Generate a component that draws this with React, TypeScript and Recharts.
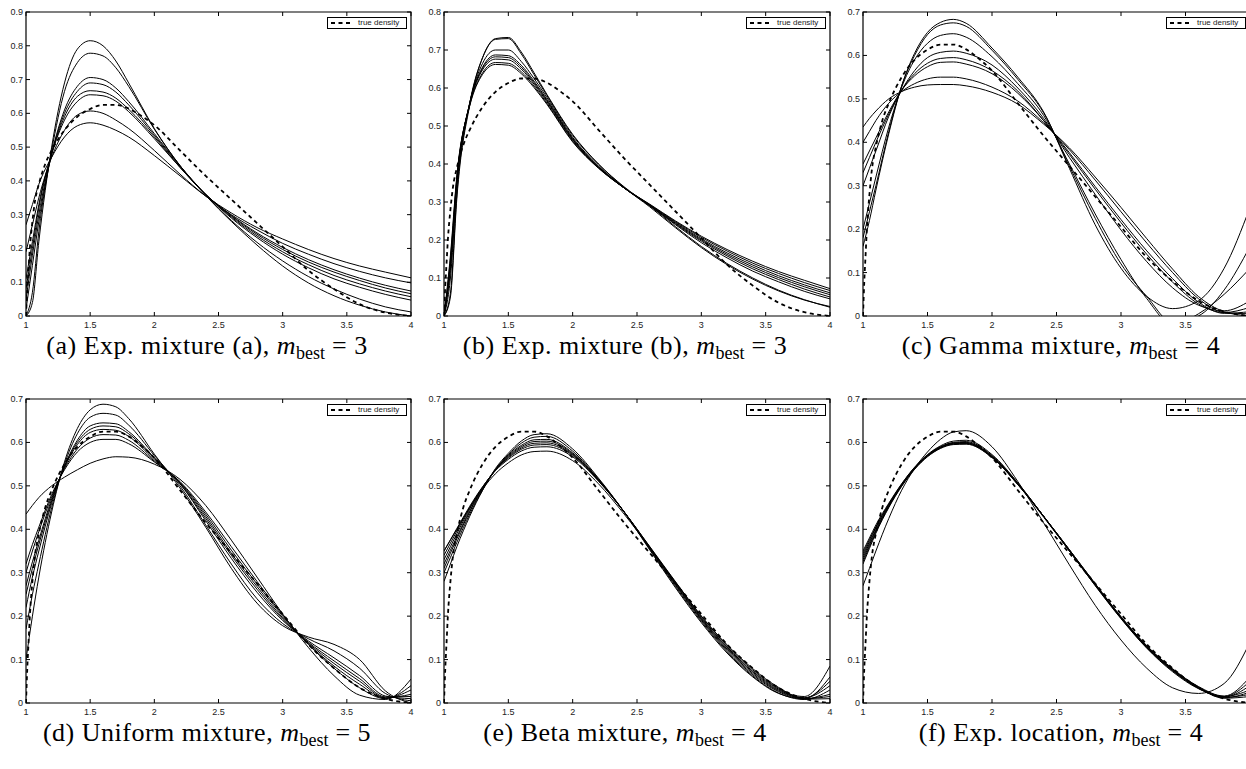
import React from 'react';
import { LineChart, Line, XAxis, YAxis, ReferenceArea } from 'recharts';

// sample grid shared by every fitted curve
const FIT_X = [1, 1.05, 1.1, 1.2, 1.3, 1.4, 1.5, 1.6, 1.7, 1.8, 2, 2.2, 2.4, 2.6, 2.8, 3, 3.2, 3.4, 3.6, 3.8, 4];

// true density (same in all six panels)
const TRUE_X = [1, 1.01, 1.02, 1.03, 1.05, 1.07, 1.1, 1.15, 1.2, 1.3, 1.4, 1.5, 1.6, 1.7, 1.8, 1.9, 2, 2.2, 2.4, 2.6, 2.8, 3, 3.2, 3.4, 3.6, 3.8, 4];
const TRUE_Y = [0, 0.08, 0.14, 0.2, 0.28, 0.34, 0.39, 0.45, 0.49, 0.55, 0.59, 0.613, 0.625, 0.625, 0.614, 0.592, 0.565, 0.49, 0.415, 0.345, 0.275, 0.205, 0.135, 0.08, 0.035, 0.01, 0];

const X_TICKS = [1, 1.5, 2, 2.5, 3, 3.5, 4];
const Y_TICKS_09 = [0, 0.1, 0.2, 0.3, 0.4, 0.5, 0.6, 0.7, 0.8, 0.9];
const Y_TICKS_08 = [0, 0.1, 0.2, 0.3, 0.4, 0.5, 0.6, 0.7, 0.8];
const Y_TICKS_07 = [0, 0.1, 0.2, 0.3, 0.4, 0.5, 0.6, 0.7];

// (a) Exp. mixture (a)
const EXP_A_FITS = [
  [0, 0.04, 0.22, 0.5, 0.69, 0.79, 0.815, 0.8, 0.755, 0.69, 0.555, 0.445, 0.357, 0.28, 0.21, 0.148, 0.098, 0.06, 0.032, 0.012, 0],
  [0, 0.07, 0.25, 0.49, 0.665, 0.75, 0.778, 0.77, 0.735, 0.68, 0.553, 0.445, 0.358, 0.283, 0.218, 0.163, 0.117, 0.08, 0.05, 0.027, 0.012],
  [0.02, 0.15, 0.28, 0.48, 0.61, 0.68, 0.706, 0.7, 0.675, 0.635, 0.54, 0.445, 0.36, 0.29, 0.232, 0.183, 0.143, 0.11, 0.085, 0.064, 0.047],
  [0.05, 0.18, 0.3, 0.48, 0.6, 0.665, 0.69, 0.685, 0.663, 0.625, 0.535, 0.443, 0.36, 0.293, 0.237, 0.19, 0.152, 0.12, 0.095, 0.074, 0.057],
  [0.08, 0.2, 0.32, 0.48, 0.59, 0.65, 0.667, 0.663, 0.645, 0.612, 0.53, 0.44, 0.36, 0.296, 0.242, 0.197, 0.16, 0.13, 0.105, 0.083, 0.066],
  [0.11, 0.22, 0.33, 0.48, 0.58, 0.635, 0.655, 0.652, 0.636, 0.605, 0.525, 0.44, 0.36, 0.298, 0.246, 0.203, 0.167, 0.137, 0.112, 0.091, 0.074],
  [0.19, 0.27, 0.35, 0.47, 0.55, 0.595, 0.607, 0.6, 0.58, 0.555, 0.49, 0.42, 0.355, 0.3, 0.255, 0.215, 0.183, 0.155, 0.132, 0.113, 0.098],
  [0.27, 0.33, 0.39, 0.47, 0.53, 0.563, 0.572, 0.565, 0.55, 0.53, 0.475, 0.415, 0.355, 0.305, 0.262, 0.228, 0.197, 0.17, 0.148, 0.13, 0.113],
];

// (b) Exp. mixture (b)
const EXP_B_FITS = [
  [0, 0.06, 0.32, 0.56, 0.68, 0.728, 0.73, 0.69, 0.635, 0.58, 0.475, 0.4, 0.34, 0.29, 0.235, 0.183, 0.138, 0.1, 0.068, 0.043, 0.023],
  [0, 0.05, 0.31, 0.555, 0.68, 0.73, 0.733, 0.695, 0.64, 0.583, 0.478, 0.4, 0.338, 0.287, 0.232, 0.18, 0.135, 0.097, 0.066, 0.042, 0.025],
  [0, 0.1, 0.34, 0.56, 0.665, 0.7, 0.7, 0.67, 0.625, 0.575, 0.47, 0.395, 0.338, 0.29, 0.24, 0.193, 0.153, 0.118, 0.09, 0.065, 0.045],
  [0, 0.12, 0.35, 0.56, 0.655, 0.687, 0.685, 0.66, 0.618, 0.57, 0.467, 0.393, 0.337, 0.29, 0.242, 0.197, 0.158, 0.124, 0.096, 0.071, 0.05],
  [0, 0.13, 0.355, 0.56, 0.652, 0.682, 0.68, 0.655, 0.614, 0.567, 0.465, 0.392, 0.337, 0.291, 0.244, 0.2, 0.162, 0.129, 0.101, 0.077, 0.056],
  [0, 0.14, 0.36, 0.558, 0.648, 0.676, 0.674, 0.65, 0.61, 0.564, 0.463, 0.391, 0.337, 0.292, 0.246, 0.203, 0.166, 0.134, 0.106, 0.082, 0.061],
  [0, 0.15, 0.365, 0.555, 0.64, 0.667, 0.665, 0.643, 0.605, 0.56, 0.46, 0.39, 0.337, 0.293, 0.248, 0.207, 0.171, 0.139, 0.112, 0.088, 0.067],
  [0, 0.16, 0.37, 0.553, 0.636, 0.662, 0.66, 0.638, 0.601, 0.557, 0.458, 0.389, 0.337, 0.294, 0.25, 0.21, 0.175, 0.144, 0.117, 0.094, 0.072],
];

// (c) Gamma mixture
const GAMMA_FITS = [
  [0.16, 0.22, 0.29, 0.42, 0.53, 0.605, 0.653, 0.676, 0.683, 0.674, 0.617, 0.55, 0.47, 0.34, 0.21, 0.11, 0.045, 0.017, 0.035, 0.11, 0.25],
  [0.18, 0.24, 0.3, 0.425, 0.53, 0.6, 0.648, 0.67, 0.675, 0.667, 0.612, 0.545, 0.468, 0.345, 0.225, 0.12, 0.045, -0.015, 0, 0.06, 0.16],
  [0.2, 0.26, 0.32, 0.435, 0.527, 0.59, 0.628, 0.646, 0.65, 0.642, 0.597, 0.535, 0.462, 0.35, 0.235, 0.13, 0.04, -0.02, 0.005, 0.05, 0.11],
  [0.3, 0.34, 0.38, 0.46, 0.52, 0.565, 0.595, 0.607, 0.61, 0.605, 0.578, 0.525, 0.455, 0.365, 0.28, 0.198, 0.125, 0.065, 0.025, 0.012, 0.035],
  [0.33, 0.365, 0.4, 0.465, 0.52, 0.558, 0.582, 0.593, 0.595, 0.59, 0.565, 0.518, 0.45, 0.372, 0.292, 0.215, 0.142, 0.078, 0.028, 0.008, 0.02],
  [0.35, 0.38, 0.41, 0.47, 0.52, 0.553, 0.574, 0.584, 0.585, 0.58, 0.558, 0.513, 0.45, 0.376, 0.298, 0.222, 0.15, 0.086, 0.032, 0.006, 0.01],
  [0.4, 0.425, 0.45, 0.49, 0.517, 0.535, 0.546, 0.55, 0.55, 0.546, 0.527, 0.495, 0.445, 0.383, 0.313, 0.24, 0.168, 0.1, 0.04, 0.008, 0.005],
  [0.435, 0.455, 0.472, 0.5, 0.517, 0.527, 0.532, 0.533, 0.533, 0.53, 0.515, 0.488, 0.442, 0.387, 0.32, 0.25, 0.178, 0.108, 0.045, 0.01, 0],
];

// (d) Uniform mixture
const UNIFORM_FITS = [
  [0.1, 0.2, 0.29, 0.44, 0.555, 0.632, 0.675, 0.688, 0.682, 0.655, 0.573, 0.495, 0.405, 0.31, 0.23, 0.178, 0.152, 0.135, 0.1, 0.028, 0],
  [0.17, 0.25, 0.32, 0.45, 0.55, 0.62, 0.658, 0.667, 0.663, 0.64, 0.57, 0.5, 0.41, 0.32, 0.24, 0.183, 0.148, 0.12, 0.08, 0.022, 0.005],
  [0.22, 0.29, 0.35, 0.46, 0.545, 0.605, 0.638, 0.645, 0.643, 0.625, 0.565, 0.505, 0.42, 0.333, 0.255, 0.19, 0.143, 0.104, 0.063, 0.016, 0.01],
  [0.25, 0.31, 0.365, 0.465, 0.545, 0.6, 0.63, 0.638, 0.636, 0.62, 0.563, 0.505, 0.425, 0.34, 0.262, 0.193, 0.14, 0.097, 0.056, 0.014, 0.015],
  [0.27, 0.325, 0.375, 0.47, 0.543, 0.595, 0.623, 0.63, 0.628, 0.614, 0.56, 0.507, 0.43, 0.345, 0.268, 0.196, 0.138, 0.091, 0.05, 0.012, 0.02],
  [0.3, 0.35, 0.395, 0.475, 0.54, 0.585, 0.61, 0.618, 0.617, 0.605, 0.557, 0.508, 0.435, 0.352, 0.274, 0.2, 0.136, 0.085, 0.043, 0.011, 0.03],
  [0.32, 0.365, 0.405, 0.48, 0.537, 0.578, 0.6, 0.607, 0.607, 0.597, 0.555, 0.51, 0.44, 0.36, 0.28, 0.203, 0.135, 0.08, 0.035, 0.01, 0.04],
  [0.435, 0.455, 0.473, 0.5, 0.52, 0.537, 0.552, 0.562, 0.567, 0.566, 0.55, 0.515, 0.455, 0.375, 0.29, 0.205, 0.128, 0.063, 0.018, 0.008, 0.055],
];

// (e) Beta mixture
const BETA_FITS = [
  [0.28, 0.32, 0.36, 0.43, 0.49, 0.54, 0.575, 0.603, 0.618, 0.62, 0.585, 0.518, 0.44, 0.352, 0.265, 0.185, 0.115, 0.06, 0.022, 0.01, 0.06],
  [0.3, 0.335, 0.37, 0.435, 0.49, 0.538, 0.572, 0.598, 0.612, 0.614, 0.58, 0.516, 0.44, 0.354, 0.268, 0.188, 0.118, 0.062, 0.023, 0.008, 0.03],
  [0.31, 0.345, 0.378, 0.44, 0.492, 0.537, 0.57, 0.593, 0.606, 0.607, 0.576, 0.515, 0.44, 0.356, 0.271, 0.191, 0.121, 0.065, 0.026, 0.01, 0.02],
  [0.32, 0.352, 0.383, 0.443, 0.494, 0.537, 0.568, 0.59, 0.602, 0.603, 0.574, 0.514, 0.44, 0.357, 0.273, 0.193, 0.124, 0.068, 0.028, 0.012, 0.04],
  [0.33, 0.36, 0.39, 0.447, 0.496, 0.537, 0.566, 0.587, 0.598, 0.599, 0.572, 0.513, 0.44, 0.358, 0.275, 0.195, 0.127, 0.071, 0.03, 0.015, 0.085],
  [0.34, 0.368, 0.396, 0.45, 0.497, 0.536, 0.564, 0.584, 0.594, 0.595, 0.57, 0.512, 0.44, 0.359, 0.277, 0.197, 0.129, 0.073, 0.032, 0.009, 0.01],
  [0.35, 0.376, 0.402, 0.453, 0.498, 0.535, 0.561, 0.58, 0.589, 0.59, 0.567, 0.511, 0.44, 0.36, 0.279, 0.2, 0.132, 0.076, 0.034, 0.012, 0.05],
  [0.35, 0.375, 0.4, 0.45, 0.493, 0.528, 0.553, 0.571, 0.579, 0.58, 0.558, 0.505, 0.435, 0.357, 0.278, 0.2, 0.134, 0.079, 0.036, 0.01, 0.015],
];

// (f) Exp. location
const EXP_LOC_FITS = [
  [0.27, 0.31, 0.35, 0.425, 0.49, 0.54, 0.578, 0.607, 0.624, 0.627, 0.59, 0.51, 0.415, 0.318, 0.225, 0.145, 0.08, 0.035, 0.022, 0.045, 0.14],
  [0.35, 0.38, 0.41, 0.46, 0.505, 0.543, 0.572, 0.592, 0.603, 0.605, 0.572, 0.507, 0.43, 0.35, 0.27, 0.194, 0.126, 0.072, 0.033, 0.015, 0.03],
  [0.34, 0.372, 0.404, 0.457, 0.503, 0.542, 0.571, 0.59, 0.6, 0.602, 0.57, 0.506, 0.43, 0.35, 0.271, 0.195, 0.127, 0.074, 0.034, 0.014, 0.04],
  [0.335, 0.368, 0.4, 0.455, 0.502, 0.541, 0.57, 0.589, 0.599, 0.6, 0.568, 0.505, 0.43, 0.351, 0.272, 0.196, 0.128, 0.075, 0.035, 0.013, 0.02],
  [0.33, 0.364, 0.397, 0.453, 0.501, 0.54, 0.569, 0.588, 0.597, 0.598, 0.567, 0.504, 0.43, 0.352, 0.273, 0.197, 0.13, 0.077, 0.036, 0.015, 0.05],
  [0.325, 0.36, 0.394, 0.452, 0.5, 0.539, 0.568, 0.587, 0.596, 0.597, 0.566, 0.504, 0.43, 0.353, 0.274, 0.198, 0.131, 0.078, 0.037, 0.012, 0.025],
  [0.32, 0.356, 0.391, 0.45, 0.499, 0.538, 0.567, 0.586, 0.595, 0.596, 0.565, 0.503, 0.43, 0.353, 0.275, 0.199, 0.132, 0.079, 0.038, 0.016, 0.06],
  [0.345, 0.376, 0.406, 0.458, 0.504, 0.542, 0.57, 0.589, 0.598, 0.599, 0.567, 0.503, 0.428, 0.35, 0.272, 0.196, 0.129, 0.076, 0.035, 0.011, 0.015],
];

const PAGE_W = 1246;
const PLOT_H = 304;
const Y_AXIS_W = 30;
const TOP_PAD = 5;
const RIGHT_PAD = 6;
const X_AXIS_H = 22;
const TICK_FONT = '"Liberation Sans", Arial, Helvetica, sans-serif';
const CAPTION_FONT = '"Liberation Serif", "Times New Roman", serif';

const fmt = (v: number) => String(Number(v.toFixed(2)));
const toPoints = (xs: number[], ys: number[]) => xs.map((x, i) => ({ x, y: ys[i] }));

interface PanelProps {
  fits: number[][];
  yTicks: number[];
  plotLeft: number;
  plotTop: number;
  plotW: number;
}

const Panel: React.FC<PanelProps> = ({ fits, yTicks, plotLeft, plotTop, plotW }) => {
  const yMax = yTicks[yTicks.length - 1];
  const chartLeft = plotLeft - Y_AXIS_W;

  // matlab style: ticks point inwards, mirrored on top and right
  const xTick = (props: any) => {
    const { x, y, payload } = props;
    // the third column runs past the page edge, its last label is not shown
    const showLabel = chartLeft + x + 4 < PAGE_W;
    return (
      <g>
        <line x1={x} x2={x} y1={y} y2={y - 4} stroke="#000" strokeWidth={1} />
        <line x1={x} x2={x} y1={y - PLOT_H} y2={y - PLOT_H + 4} stroke="#000" strokeWidth={1} />
        {showLabel && (
          <text x={x} y={y + 12} textAnchor="middle" fontSize={9} fill="#222" fontFamily={TICK_FONT}>
            {fmt(payload.value)}
          </text>
        )}
      </g>
    );
  };

  const yTick = (props: any) => {
    const { x, y, payload } = props;
    return (
      <g>
        <line x1={x} x2={x + 4} y1={y} y2={y} stroke="#000" strokeWidth={1} />
        <line x1={x + plotW} x2={x + plotW - 4} y1={y} y2={y} stroke="#000" strokeWidth={1} />
        <text x={x - 3} y={y} dy="0.33em" textAnchor="end" fontSize={9} fill="#222" fontFamily={TICK_FONT}>
          {fmt(payload.value)}
        </text>
      </g>
    );
  };

  return (
    <div style={{ position: 'absolute', left: chartLeft, top: plotTop - TOP_PAD }}>
      <LineChart
        width={plotW + Y_AXIS_W + RIGHT_PAD}
        height={PLOT_H + TOP_PAD + X_AXIS_H}
        margin={{ top: TOP_PAD, right: RIGHT_PAD, left: 0, bottom: 0 }}
      >
        <XAxis
          dataKey="x"
          type="number"
          domain={[1, 4]}
          ticks={X_TICKS}
          interval={0}
          allowDataOverflow
          axisLine={false}
          tickLine={false}
          tickSize={0}
          tickMargin={0}
          height={X_AXIS_H}
          tick={xTick}
        />
        <YAxis
          type="number"
          domain={[0, yMax]}
          ticks={yTicks}
          interval={0}
          allowDataOverflow
          axisLine={false}
          tickLine={false}
          tickSize={0}
          tickMargin={0}
          width={Y_AXIS_W}
          tick={yTick}
        />
        {fits.map((f, i) => (
          <Line
            key={`fit-${i}`}
            data={toPoints(FIT_X, f)}
            dataKey="y"
            type="monotone"
            stroke="#000"
            strokeWidth={1}
            dot={false}
            isAnimationActive={false}
          />
        ))}
        <Line
          data={toPoints(TRUE_X, TRUE_Y)}
          dataKey="y"
          type="monotone"
          stroke="#000"
          strokeWidth={1.8}
          strokeDasharray="4 3.5"
          dot={false}
          isAnimationActive={false}
        />
        <ReferenceArea x1={1} x2={4} y1={0} y2={yMax} fill="none" stroke="#000" strokeWidth={1.2} />
      </LineChart>
      {/* legend box, top right of the axes */}
      <div
        style={{
          position: 'absolute',
          left: Y_AXIS_W + plotW - 84,
          top: TOP_PAD + 5,
          width: 78,
          height: 10,
          border: '1px solid #000',
          background: '#fff',
          display: 'flex',
          alignItems: 'center',
          fontFamily: TICK_FONT,
          fontSize: 8,
          color: '#222',
        }}
      >
        <svg width={30} height={10}>
          <line x1={3} x2={22} y1={5} y2={5} stroke="#000" strokeWidth={1.8} strokeDasharray="4 3.5" />
        </svg>
        <span style={{ lineHeight: 1 }}>true density</span>
      </div>
    </div>
  );
};

const Caption: React.FC<{ center: number; top: number; label: string; m: string }> = ({ center, top, label, m }) => (
  <div
    style={{
      position: 'absolute',
      left: center - 250,
      top,
      width: 500,
      textAlign: 'center',
      fontFamily: CAPTION_FONT,
      fontSize: 26,
      letterSpacing: 0.5,
      lineHeight: 1,
      whiteSpace: 'nowrap',
      color: '#000',
    }}
  >
    {label}, <i>m</i>
    <span style={{ fontSize: 18, position: 'relative', top: 5, letterSpacing: 0 }}>best</span>
    {' = '}
    {m}
  </div>
);

const ROW_TOPS = [12, 399];
const COL_LEFTS = [26, 444, 863];
const COL_WIDTHS = [385, 386, 387];
const CAPTION_CENTERS = [207, 625, 1061];
const CAPTION_TOPS = [333, 720];

export default function App() {
  return (
    <div
      style={{
        position: 'absolute',
        left: 0,
        top: 0,
        width: PAGE_W,
        height: 769,
        overflow: 'hidden',
        background: '#fff',
      }}
    >
      <Panel fits={EXP_A_FITS} yTicks={Y_TICKS_09} plotLeft={COL_LEFTS[0]} plotTop={ROW_TOPS[0]} plotW={COL_WIDTHS[0]} />
      <Panel fits={EXP_B_FITS} yTicks={Y_TICKS_08} plotLeft={COL_LEFTS[1]} plotTop={ROW_TOPS[0]} plotW={COL_WIDTHS[1]} />
      <Panel fits={GAMMA_FITS} yTicks={Y_TICKS_07} plotLeft={COL_LEFTS[2]} plotTop={ROW_TOPS[0]} plotW={COL_WIDTHS[2]} />
      <Panel fits={UNIFORM_FITS} yTicks={Y_TICKS_07} plotLeft={COL_LEFTS[0]} plotTop={ROW_TOPS[1]} plotW={COL_WIDTHS[0]} />
      <Panel fits={BETA_FITS} yTicks={Y_TICKS_07} plotLeft={COL_LEFTS[1]} plotTop={ROW_TOPS[1]} plotW={COL_WIDTHS[1]} />
      <Panel fits={EXP_LOC_FITS} yTicks={Y_TICKS_07} plotLeft={COL_LEFTS[2]} plotTop={ROW_TOPS[1]} plotW={COL_WIDTHS[2]} />

      <Caption center={CAPTION_CENTERS[0]} top={CAPTION_TOPS[0]} label="(a) Exp. mixture (a)" m="3" />
      <Caption center={CAPTION_CENTERS[1]} top={CAPTION_TOPS[0]} label="(b) Exp. mixture (b)" m="3" />
      <Caption center={CAPTION_CENTERS[2]} top={CAPTION_TOPS[0]} label="(c) Gamma mixture" m="4" />
      <Caption center={CAPTION_CENTERS[0]} top={CAPTION_TOPS[1]} label="(d) Uniform mixture" m="5" />
      <Caption center={CAPTION_CENTERS[1]} top={CAPTION_TOPS[1]} label="(e) Beta mixture" m="4" />
      <Caption center={CAPTION_CENTERS[2]} top={CAPTION_TOPS[1]} label="(f) Exp. location" m="4" />
    </div>
  );
}
